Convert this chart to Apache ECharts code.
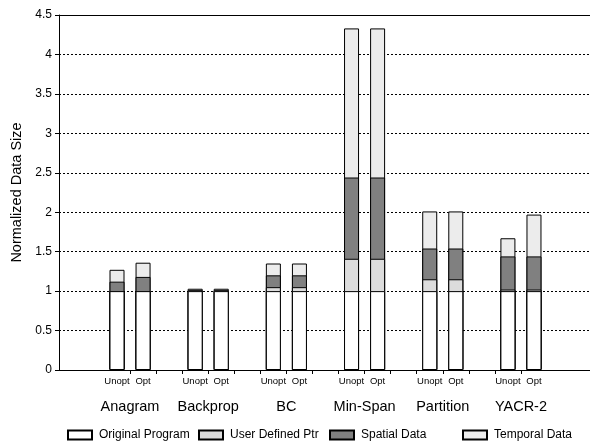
<!DOCTYPE html>
<html><head><meta charset="utf-8">
<script src="https://cdn.jsdelivr.net/npm/echarts@6/dist/echarts.min.js"></script>
<style>html,body{margin:0;padding:0;background:#fff}#c{width:590px;height:445px}</style>
</head><body><div id="c"></div>
<script>
// ---- data ----
const benchmarks = ['Anagram', 'Backprop', 'BC', 'Min-Span', 'Partition', 'YACR-2'];
const variants = ['Unopt', 'Opt'];
const seriesNames = ['Original Program', 'User Defined Ptr', 'Spatial Data', 'Temporal Data'];
// order: Anagram Unopt, Anagram Opt, Backprop Unopt, Backprop Opt, ...
const originalProgram = [1, 1, 1, 1, 1, 1, 1, 1, 1, 1, 1, 1];
const userDefinedPtr  = [0, 0, 0.01, 0.01, 0.05, 0.05, 0.41, 0.41, 0.15, 0.15, 0.02, 0.02];
const spatialData     = [0.12, 0.18, 0, 0, 0.15, 0.15, 1.03, 1.03, 0.39, 0.39, 0.42, 0.42];
const temporalData    = [0.15, 0.18, 0.02, 0.02, 0.15, 0.15, 1.89, 1.89, 0.47, 0.47, 0.23, 0.53];
const yTickLabels = ['0', '0.5', '1', '1.5', '2', '2.5', '3', '3.5', '4', '4.5'];

// ---- layout helpers ----
const slotsPerGroup = variants.length + 1;
const barX = i => Math.floor(i / variants.length) * slotsPerGroup + (i % variants.length);
const tickValues = [];
for (let k = 0; k < benchmarks.length * slotsPerGroup - 2; k++) tickValues.push(k + 0.5);
const variantValues = [];
benchmarks.forEach((b, g) => variants.forEach((v, j) => variantValues.push(g * slotsPerGroup + j)));
const groupCenters = benchmarks.map((b, g) => g * slotsPerGroup + (variants.length - 1) / 2);

const FONT = 'Liberation Sans, Arial, Helvetica, sans-serif';
const colors = ['#ffffff', '#dcdcdc', '#808080', '#ececec'];
const seriesData = [originalProgram, userDefinedPtr, spatialData, temporalData];
// cumulative tops (stack computed from the arrays; drawn back-to-front)
const cumulative = seriesData.map((arr, s) =>
  arr.map((v, i) => seriesData.slice(0, s + 1).reduce((acc, a) => acc + a[i], 0)));
const xMin = -2.2256, xMax = 18.15;

const series = seriesNames.map((n, i) => ({
  name: n, type: 'bar', xAxisIndex: 0, barWidth: 15, barGap: '-100%',
  z: 10 - i,
  itemStyle: {color: colors[i], borderColor: '#000', borderWidth: 1},
  data: cumulative[i].map((v, j) => [barX(j), +v.toFixed(4)])
})).reverse();

const chart = echarts.init(document.getElementById('c'), null, {renderer: 'canvas'});
chart.setOption({
  animation: false,
  backgroundColor: '#fff',
  grid: {left: 59, right: 0, top: 15, bottom: 75, containLabel: false},
  xAxis: [
    {
      type: 'value', position: 'bottom', min: xMin, max: xMax,
      axisLine: {show: true, onZero: false, lineStyle: {color: '#000', width: 1}},
      axisTick: {show: true, customValues: tickValues, length: 4, lineStyle: {color: '#000'}},
      axisLabel: {show: true, customValues: variantValues, margin: 6,
        formatter: v => variants[Math.round(v) % slotsPerGroup],
        fontSize: 9.5, fontFamily: FONT, color: '#000'},
      splitLine: {show: false}
    },
    {
      type: 'value', position: 'bottom', min: xMin, max: xMax,
      axisLine: {show: false, onZero: false}, axisTick: {show: false},
      axisLabel: {show: true, customValues: groupCenters, margin: 29,
        formatter: v => benchmarks[Math.round((v - (variants.length - 1) / 2) / slotsPerGroup)],
        fontSize: 14.5, fontFamily: FONT, color: '#000'},
      splitLine: {show: false}
    },
    {
      type: 'value', position: 'top', min: xMin, max: xMax,
      axisLine: {show: true, onZero: false, lineStyle: {color: '#000', width: 1}},
      axisTick: {show: false}, axisLabel: {show: false}, splitLine: {show: false}
    }
  ],
  yAxis: {
    type: 'value', min: 0, max: 4.5, interval: 0.5, position: 'left',
    name: 'Normalized Data Size', nameLocation: 'middle', nameGap: 31,
    nameTextStyle: {fontSize: 14.5, fontFamily: FONT, color: '#000'},
    axisLine: {show: true, onZero: false, lineStyle: {color: '#000', width: 1}},
    axisTick: {show: true, length: 4, lineStyle: {color: '#000'}},
    axisLabel: {fontSize: 12, fontFamily: FONT, color: '#000', margin: 7,
      formatter: (v) => yTickLabels[Math.round(v / 0.5)]},
    splitLine: {show: true, lineStyle: {color: '#000', width: 1, type: [2, 2]}}
  },
  legend: seriesNames.map((n, i) => ({
    data: [{name: n, icon: 'rect'}],
    left: [62, 193, 324, 457][i], top: 424,
    itemWidth: 24, itemHeight: 9, selectedMode: false,
    textStyle: {fontSize: 12, fontFamily: FONT, color: '#000', padding: [0, 0, 0, 2]}
  })),
  series: series
});
</script>
</body></html>
